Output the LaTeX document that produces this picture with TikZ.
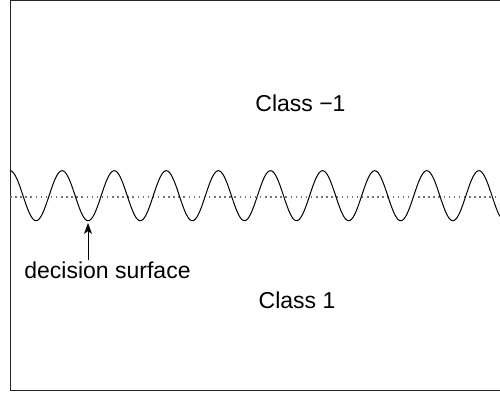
\documentclass[tikz,border=0pt]{standalone}
\usepackage{fontspec}
\setmainfont{Liberation Sans}
\usetikzlibrary{arrows.meta}
\begin{document}
\begin{tikzpicture}[x=1pt,y=1pt,
  lbl/.style={font=\fontsize{23}{27}\selectfont, inner sep=1pt, anchor=base},
  frameline/.style={draw=black!85, line width=1pt},
  wave/.style={line width=1pt, black},
  midline/.style={draw=black!55, line width=1.2pt, dash pattern=on 1.5pt off 3.6pt},
  pointer/.style={line width=0.9pt, -{Stealth[length=11pt,width=8pt,inset=3pt]}}]
\useasboundingbox (0,0) rectangle (500,392);
\fill[white] (0,0) rectangle (500,392);
% frame (left, top, bottom)
\coordinate (tr) at (500,391.5);
\coordinate (tl) at (10,391.5);
\coordinate (bl) at (10,2);
\coordinate (br) at (500,2);
\draw[frameline] (tr) -- (tl) -- (bl) -- (br);
% dotted mean line
\coordinate (ml) at (10,195);
\coordinate (mr) at (500,195);
\draw[midline] (ml) -- (mr);
% decision surface
\draw[wave] plot[domain=10:500, samples=500, smooth] (\x, {196.3 + 25*cos(6.90979*(\x-10))});
% labels
\node[lbl] (cneg) at (300.5,280.3) {Class −1};
\node[lbl] (cpos) at (297,83.7) {Class 1};
\node[lbl] (ds) at (107.5,114) {decision surface};
\coordinate (tip) at (88,169);
\draw[pointer] (ds.north -| tip) -- (tip);
\end{tikzpicture}
\end{document}
